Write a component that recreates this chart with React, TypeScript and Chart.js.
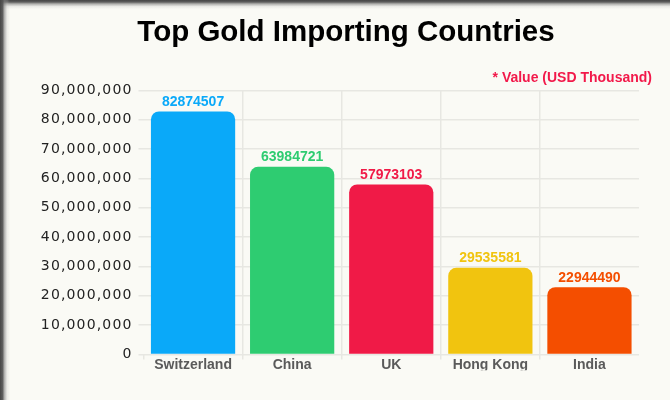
import React, { useEffect, useRef } from "react";
import { Chart, registerables } from "chart.js";

Chart.register(...registerables);

const categories = ["Switzerland", "China", "UK", "Hong Kong", "India"];
const values = [82874507, 63984721, 57973103, 29535581, 22944490];
const barColors = ["#0AA9F9", "#2ECC71", "#F01A47", "#F1C40F", "#F44E00"];
const titleText = "Top Gold Importing Countries";
const noteText = "* Value (USD Thousand)";
const yMax = 90000000;
const yStep = 10000000;

const BG = "#FAFAF5";
const GRID = "#E7E7E2";
const SANS = '"Liberation Sans", Arial, Helvetica, sans-serif';

const textPlugin = {
  id: "texts",
  beforeDraw(chart: any) {
    (chart.ctx as any).letterSpacing = "1.15px";
  },
  beforeDatasetsDraw(chart: any) {
    (chart.ctx as any).letterSpacing = "0px";
  },
  afterDatasetsDraw(chart: any) {
    const ctx = chart.ctx;
    const meta = chart.getDatasetMeta(0);
    ctx.save();
    ctx.font = `bold 14px ${SANS}`;
    ctx.textAlign = "center";
    ctx.textBaseline = "alphabetic";
    meta.data.forEach((bar: any, i: number) => {
      ctx.fillStyle = barColors[i];
      ctx.fillText(String(values[i]), bar.x, bar.y - 5.5);
    });
    ctx.fillStyle = "#000";
    ctx.font = `bold 29.5px ${SANS}`;
    ctx.textAlign = "center";
    ctx.fillText(titleText, chart.width / 2 + 11, 41);
    ctx.fillStyle = "#F2194A";
    ctx.font = `bold 14px ${SANS}`;
    ctx.textAlign = "right";
    ctx.fillText(noteText, chart.chartArea.right + 13, 81.5);
    ctx.restore();
  },
};

const innerLine = (c: any) => c && c.type === "tick" && c.index > 0;

export default function App() {
  const ref = useRef<HTMLCanvasElement | null>(null);
  useEffect(() => {
    if (!ref.current) return;
    const chart = new Chart(ref.current, {
      type: "bar",
      data: {
        labels: categories,
        datasets: [
          {
            data: values,
            backgroundColor: barColors,
            borderRadius: 8,
            borderSkipped: "bottom",
            barPercentage: 0.85,
            categoryPercentage: 1,
          },
        ],
      },
      options: {
        responsive: false,
        animation: false,
        events: [],
        layout: { padding: { top: 90.5, left: 40, right: 31, bottom: 29.7 } },
        plugins: {
          legend: { display: false },
          title: { display: false },
          tooltip: { enabled: false },
        },
        scales: {
          x: {
            offset: true,
            border: { display: false },
            grid: {
              offset: true,
              color: (c: any) => (innerLine(c) ? GRID : "rgba(0,0,0,0)"),
              tickColor: (c: any) => (c && c.type === "tick" ? GRID : "rgba(0,0,0,0)"),
              tickLength: 5,
              lineWidth: 1.5,
            },
            ticks: {
              z: 1,
              padding: -3,
              color: "#5A5A5A",
              font: { family: SANS, size: 14, weight: "bold" },
            },
          },
          y: {
            min: 0,
            max: yMax,
            border: { display: false },
            grid: { color: GRID, tickColor: GRID, tickLength: 5, lineWidth: 1.5 },
            ticks: {
              stepSize: yStep,
              padding: 6,
              color: "#222222",
              font: { family: '"DejaVu Sans", sans-serif', size: 14 },
              callback: (v: any) => Number(v).toLocaleString("en-US"),
            },
            afterFit: (s: any) => {
              s.width = 103.5;
            },
          },
        },
      },
      plugins: [textPlugin],
    } as any);
    return () => chart.destroy();
  }, []);
  return (
    <div
      style={{
        position: "fixed",
        top: 0,
        left: 0,
        width: 670,
        height: 400,
        background: BG,
        overflow: "hidden",
      }}
    >
      <canvas ref={ref} width={670} height={400} style={{ display: "block", width: 670, height: 400 }} />
      <div
        style={{
          position: "absolute",
          top: 0,
          left: 0,
          width: 670,
          height: 9,
          background:
            "linear-gradient(to bottom, rgba(70,70,70,1) 0px, rgba(85,85,85,0.95) 2px, rgba(130,130,130,0.6) 4px, rgba(190,190,190,0.25) 6.5px, rgba(250,250,245,0) 9px)",
        }}
      />
      <div
        style={{
          position: "absolute",
          top: 0,
          left: 0,
          width: 10,
          height: 400,
          background:
            "linear-gradient(to right, rgba(70,70,70,1) 0px, rgba(85,85,85,0.95) 2.5px, rgba(130,130,130,0.6) 4.5px, rgba(190,190,190,0.25) 7px, rgba(250,250,245,0) 10px)",
        }}
      />
    </div>
  );
}
